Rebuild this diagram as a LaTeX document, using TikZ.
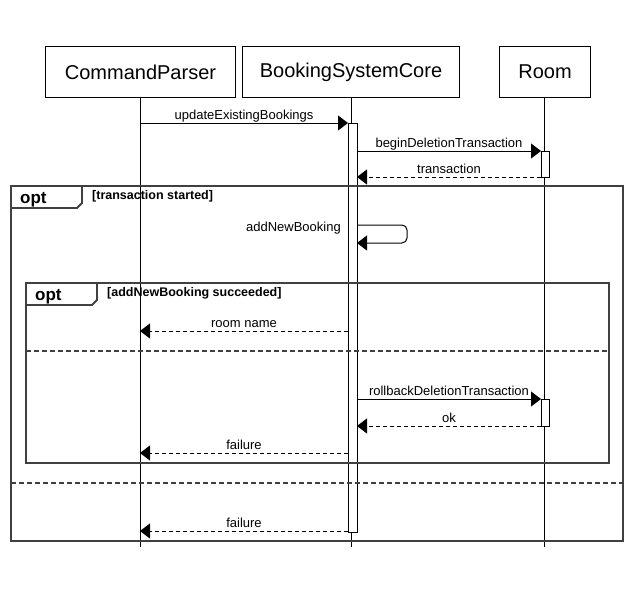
\documentclass[tikz,border=0pt]{standalone}
\usepackage{fontspec}
\setmainfont{Liberation Sans}
\usetikzlibrary{arrows.meta}
\begin{document}
\begin{tikzpicture}[x=1pt,y=-1pt,
  actor/.style={draw,line width=1pt,minimum width=#1,minimum height=51pt,inner sep=0pt,
    font=\fontsize{20}{24}\selectfont,anchor=north west},
  lifeline/.style={line width=1pt},
  bar/.style={draw,fill=white,line width=1pt,inner sep=0pt,outer sep=0pt,anchor=north west,minimum width=9pt},
  msg/.style={line width=1pt,-{Triangle[length=10pt,width=15pt]}},
  ret/.style={msg,dash pattern=on 4pt off 3pt},
  lbl/.style={font=\fontsize{13}{15}\selectfont,anchor=base,inner sep=0pt},
  frameline/.style={line width=1.8pt,draw=black!75},
  sep/.style={line width=1.8pt,draw=black!75,dash pattern=on 5pt off 3pt},
  guard/.style={font=\bfseries\fontsize{12.5}{15}\selectfont,anchor=base west,inner sep=0pt},
  optlbl/.style={font=\bfseries\fontsize{17}{20}\selectfont,anchor=base west,inner sep=0pt}]
\useasboundingbox (0,0) rectangle (633,603);

% actors
\node[actor=190pt] (cp) at (45,46) {CommandParser};
\node[actor=217pt] (bsc) at (242,46) {BookingSystemCore};
\node[actor=91pt] (room) at (499,46) {Room};

% lifelines
\coordinate (cpL) at (140,97);
\coordinate (bscL) at (351.5,97);
\coordinate (roomL) at (544.5,97);
\coordinate (cpE) at (140,547);
\coordinate (bscE) at (351.5,547);
\coordinate (roomE) at (544.5,547);
\draw[lifeline] (cpL) -- (cpE);
\draw[lifeline] (bscL) -- (bscE);
\draw[lifeline] (roomL) -- (roomE);

% activation bars
\node[bar,minimum height=409pt] (act) at (348,123) {};
\node[bar,minimum width=8pt,minimum height=26pt] (ract1) at (541,151) {};
\node[bar,minimum width=8pt,minimum height=27pt] (ract2) at (541,399) {};

% frames
\draw[frameline] (11,186) rectangle (623,541);
\draw[frameline] (11,208) -- (77,208) -- (82,203) -- (82,186);
\node[optlbl] (opt1) at (20,203) {opt};
\node[guard] (g1) at (92,199) {[transaction started]};
\draw[sep] (11,483) -- (623,483);

\draw[frameline] (26,283) rectangle (609,463);
\draw[frameline] (26,305) -- (92,305) -- (97,300) -- (97,283);
\node[optlbl] (opt2) at (35,300) {opt};
\node[guard] (g2) at (107,296) {[addNewBooking succeeded]};
\draw[sep] (26,351) -- (609,351);

% message end points
\coordinate (m1a) at (140,123);
\coordinate (m2a) at (357,151);
\coordinate (m3a) at (357,177);
\coordinate (m4a) at (357,225);
\coordinate (m4b) at (407,225);
\coordinate (m4c) at (407,243);
\coordinate (m4d) at (357,243);
\coordinate (m5a) at (348,331);
\coordinate (m5b) at (140,331);
\coordinate (m6a) at (357,399);
\coordinate (m7a) at (541,426);
\coordinate (m7b) at (357,426);
\coordinate (m8a) at (348,453);
\coordinate (m8b) at (140,453);
\coordinate (m9a) at (348,531);
\coordinate (m9b) at (140,531);

% messages
\draw[msg] (m1a) -- (act.north west);
\node[lbl] (l1) at (244,119) {updateExistingBookings};
\draw[msg] (m2a) -- (ract1.north west);
\node[lbl] (l2) at (449,147) {beginDeletionTransaction};
\draw[ret] (ract1.south west) -- (m3a);
\node[lbl] (l3) at (449,173) {transaction};
\draw[msg,rounded corners=5pt] (m4a) -- (m4b) -- (m4c) -- (m4d);
\node[lbl,anchor=base east] (l4) at (341,231) {addNewBooking};
\draw[ret] (m5a) -- (m5b);
\node[lbl] (l5) at (244,327) {room name};
\draw[msg] (m6a) -- (ract2.north west);
\node[lbl] (l6) at (449,395) {rollbackDeletionTransaction};
\draw[ret] (m7a) -- (m7b);
\node[lbl] (l7) at (449,422) {ok};
\draw[ret] (m8a) -- (m8b);
\node[lbl] (l8) at (244,449) {failure};
\draw[ret] (m9a) -- (m9b);
\node[lbl] (l9) at (244,527) {failure};
\end{tikzpicture}
\end{document}
